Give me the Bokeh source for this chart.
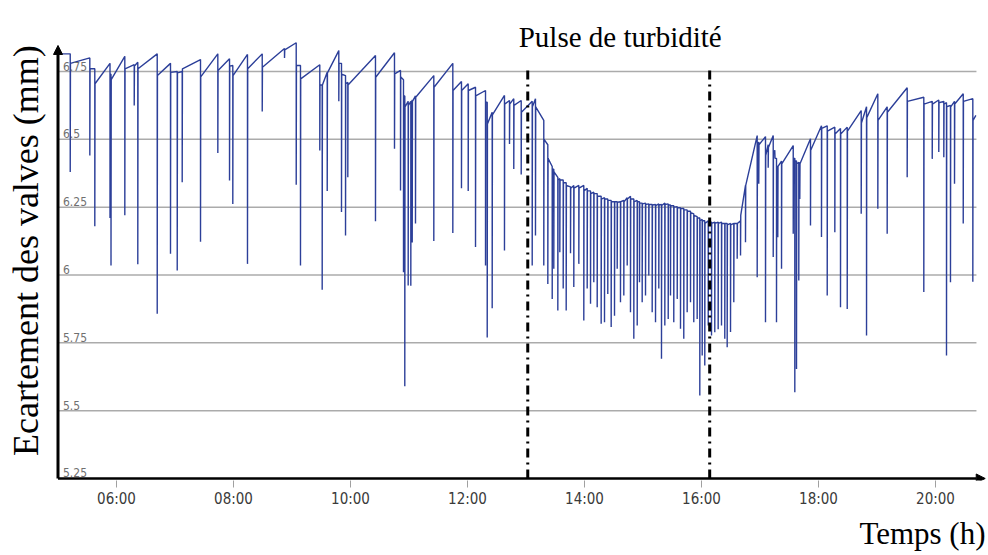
import numpy as np
from bokeh.plotting import figure
from bokeh.models import Range1d, Label, Arrow, NormalHead, Title, FixedTicker
from bokeh.core.properties import value
from bokeh.embed import file_html
from bokeh.resources import INLINE

# ---------------- data (hours, mm) ----------------
start_t, start_v = 5.026, 6.815
end_t, end_v = 20.69, 6.588

spike_t = [
    5.209, 5.544, 5.629, 5.889, 5.906, 6.142, 6.303, 6.364, 6.696, 6.923, 7.038, 7.123, 7.436,
    7.732, 7.932, 7.988, 8.239, 8.491, 8.872, 9.072, 9.145, 9.475, 9.516, 9.602, 9.800, 9.846, 9.915, 9.954,
    10.427, 10.752, 10.855, 10.906, 10.928, 10.986, 11.031, 11.055, 11.111, 11.424, 11.749, 11.897, 12.012,
    12.137, 12.308, 12.337, 12.422, 12.632, 12.718, 12.791, 12.918,
    13.106, 13.162, 13.304, 13.373, 13.448, 13.475, 13.544, 13.578, 13.636, 13.687, 13.761, 13.817, 13.903,
    13.988, 14.046, 14.103, 14.159, 14.217, 14.285, 14.342, 14.398, 14.456, 14.513,
    14.559, 14.615, 14.672, 14.730, 14.786, 14.843, 14.901, 14.940, 14.986, 15.043, 15.099, 15.157, 15.214,
    15.270, 15.316, 15.373, 15.431, 15.470, 15.526, 15.585, 15.641, 15.697, 15.755, 15.812, 15.868, 15.926,
    15.971, 16.012, 16.056, 16.115, 16.171, 16.227, 16.285, 16.342, 16.398, 16.439, 16.496, 16.552, 16.610,
    16.667, 16.752, 16.952, 16.979, 17.094, 17.140, 17.226, 17.253, 17.282, 17.304, 17.368, 17.568, 17.595,
    17.624, 17.663, 17.680, 17.863, 18.051, 18.149, 18.279, 18.376, 18.491, 18.730, 18.821, 19.014, 19.174,
    19.516, 19.800, 19.944, 20.056, 20.142, 20.188, 20.256, 20.325, 20.474, 20.638,
]
spike_lo = [
    6.38, 6.44, 6.18, 6.21, 6.035, 6.22, 6.625, 6.04, 5.857, 6.078, 6.017, 6.342, 6.123,
    6.45, 6.348, 6.262, 6.041, 6.603, 6.80, 6.333, 6.035, 6.459, 5.946, 6.31, 6.64, 6.232, 6.146, 6.36,
    6.198, 6.465, 6.311, 6.01, 5.59, 5.961, 5.96, 6.12, 6.19, 6.125, 6.155, 6.32, 6.31,
    6.103, 6.035, 5.77, 5.877, 6.09, 6.483, 6.391, 6.37,
    6.035, 6.146, 6.035, 5.967, 5.912, 6.023, 5.869, 6.084, 5.95, 5.869, 6.08, 5.956, 6.041,
    5.832, 5.95, 5.894, 5.973, 5.881, 5.82, 5.826, 5.93, 5.808, 5.85,
    6.023, 5.90, 5.924, 6.035, 5.863, 5.765, 5.814, 5.973, 5.90, 5.924, 5.998, 5.863, 5.826,
    5.95, 5.691, 5.814, 5.838, 5.924, 5.826, 5.912, 5.802, 5.765, 5.863, 5.90, 5.826, 5.838,
    5.556, 5.703, 5.666, 5.814, 5.777, 5.789, 5.80, 5.814, 5.765, 5.734, 5.79, 5.90, 6.06,
    6.072, 6.121, 5.992, 6.336, 5.826, 6.395, 6.066, 6.453, 5.826, 6.139, 6.023, 6.152, 5.568,
    5.654, 5.98, 6.28, 6.182, 6.14, 5.924, 6.158, 5.881, 5.875, 6.226, 5.777, 6.244, 6.152,
    6.36, 5.937, 6.428, 6.453, 6.434, 5.703, 5.973, 6.336, 6.19, 5.975,
]
spike_pre = [
    6.815, 6.80, 6.76, 6.78, 6.74, 6.806, 6.775, 6.784, 6.815, 6.78, 6.75, 6.75, 6.794,
    6.815, 6.797, 6.772, 6.813, 6.815, 6.835, 6.856, 6.772, 6.775, 6.70, 6.747, 6.827, 6.78, 6.735, 6.71,
    6.809, 6.819, 6.754, 6.72, 6.66, 6.64, 6.64, 6.645, 6.66, 6.735, 6.78, 6.713, 6.705,
    6.692, 6.68, 6.637, 6.60, 6.662, 6.643, 6.65, 6.643,
    6.64, 6.65, 6.57, 6.48, 6.40, 6.39, 6.36, 6.355, 6.35, 6.34, 6.325, 6.33, 6.33,
    6.33, 6.32, 6.31, 6.305, 6.30, 6.29, 6.285, 6.28, 6.275, 6.27,
    6.27, 6.27, 6.275, 6.285, 6.29, 6.28, 6.275, 6.27, 6.265, 6.265, 6.262, 6.26, 6.26,
    6.262, 6.26, 6.265, 6.262, 6.258, 6.255, 6.252, 6.248, 6.245, 6.24, 6.235, 6.225, 6.215,
    6.21, 6.205, 6.20, 6.20, 6.195, 6.195, 6.195, 6.195, 6.19, 6.19, 6.19, 6.19, 6.19,
    6.20, 6.33, 6.514, 6.49, 6.51, 6.48, 6.514, 6.46, 6.43, 6.40, 6.42, 6.477, 6.43,
    6.42, 6.415, 6.415, 6.502, 6.55, 6.55, 6.545, 6.54, 6.545, 6.606, 6.62, 6.668, 6.62,
    6.69, 6.655, 6.64, 6.645, 6.64, 6.635, 6.625, 6.64, 6.668, 6.65,
]
spike_post = [
    6.78, 6.76, 6.705, 6.74, 6.72, 6.76, 6.77, 6.76, 6.735, 6.747, 6.745, 6.76, 6.73,
    6.754, 6.77, 6.735, 6.76, 6.766, 6.83, 6.772, 6.723, 6.70, 6.70, 6.745, 6.78, 6.74, 6.705, 6.70,
    6.729, 6.741, 6.73, 6.66, 6.62, 6.625, 6.63, 6.64, 6.655, 6.692, 6.68, 6.68, 6.68,
    6.66, 6.637, 6.557, 6.59, 6.63, 6.63, 6.625, 6.60,
    6.62, 6.62, 6.50, 6.43, 6.39, 6.38, 6.35, 6.35, 6.34, 6.33, 6.32, 6.32, 6.32,
    6.31, 6.31, 6.30, 6.30, 6.29, 6.28, 6.28, 6.275, 6.27, 6.27,
    6.268, 6.27, 6.27, 6.28, 6.28, 6.27, 6.27, 6.265, 6.262, 6.26, 6.26, 6.258, 6.256,
    6.258, 6.256, 6.26, 6.258, 6.255, 6.25, 6.248, 6.245, 6.24, 6.235, 6.23, 6.22, 6.21,
    6.20, 6.20, 6.19, 6.195, 6.19, 6.19, 6.19, 6.19, 6.19, 6.185, 6.185, 6.19, 6.19,
    6.22, 6.33, 6.477, 6.48, 6.44, 6.47, 6.45, 6.43, 6.40, 6.40, 6.41, 6.43, 6.42,
    6.41, 6.41, 6.41, 6.46, 6.54, 6.53, 6.52, 6.52, 6.53, 6.56, 6.58, 6.57, 6.60,
    6.64, 6.63, 6.63, 6.635, 6.63, 6.62, 6.62, 6.63, 6.64, 6.57,
]

pulse_t = [13.03, 16.14]          # start / end of the turbidity pulse
pulse_top = 6.772

axis_t0 = 5.0                     # time at the y axis
grid_t1 = 20.70                   # time where the grid lines stop
y_ticks = [5.25, 5.5, 5.75, 6.0, 6.25, 6.5, 6.75]
y_tick_labels = ["5.25", "5.5", "5.75", "6", "6.25", "6.5", "6.75"]
x_ticks = [6, 8, 10, 12, 14, 16, 18, 20]
x_tick_labels = ["06:00", "08:00", "10:00", "12:00", "14:00", "16:00", "18:00", "20:00"]

title_text = "Pulse de turbidité"
y_label = "Ecartement des valves (mm)"
x_label = "Temps (h)"

assert len(spike_t) == len(spike_lo) == len(spike_pre) == len(spike_post)

# ---------------- build the polyline from the readings ----------------
xs, ys = [start_t], [start_v]
for t, lo, pre, post in zip(spike_t, spike_lo, spike_pre, spike_post):
    xs += [t, t, t + 0.004]
    ys += [pre, lo, post]
xs.append(end_t)
ys.append(end_v)

# ---------------- figure ----------------
PX_PER_H = 58.5
X0 = axis_t0 - 57.5 / PX_PER_H
X1 = X0 + 988 / PX_PER_H
Y0, Y1 = 5.2426, 7.0117

p = figure(width=988, height=555, output_backend="svg", toolbar_location=None,
           x_range=Range1d(X0, X1), y_range=Range1d(Y0, Y1),
           min_border_left=0, min_border_right=0, min_border_top=0, min_border_bottom=75)
p.outline_line_color = None
p.background_fill_color = "white"
p.border_fill_color = "white"
p.xgrid.visible = False
p.ygrid.visible = False
p.yaxis.visible = False

# x axis (real Bokeh axis)
p.xaxis.ticker = FixedTicker(ticks=x_ticks)
p.xaxis.major_label_overrides = {t: l for t, l in zip(x_ticks, x_tick_labels)}
p.xaxis.axis_line_color = None
p.xaxis.major_tick_in = 0
p.xaxis.major_tick_out = 7
p.xaxis.major_tick_line_color = "#a0a0a0"
p.xaxis.minor_tick_line_color = None
p.xaxis.major_label_standoff = 2
p.xaxis.major_label_text_font = "DejaVu Sans Condensed"
p.xaxis.major_label_text_font_size = "15px"
p.xaxis.major_label_text_color = "#3a3a3a"

# horizontal grid lines
gy = y_ticks[1:]
p.segment(x0=[axis_t0] * len(gy), y0=gy, x1=[grid_t1] * len(gy), y1=gy,
          line_color="#ababab", line_width=1.5)

# data line
p.line(xs, ys, line_color="#2c3f99", line_width=1.4)

# pulse markers
p.segment(x0=pulse_t, y0=[y_ticks[0]] * len(pulse_t), x1=pulse_t, y1=[pulse_top] * len(pulse_t),
          line_color="black", line_width=3, line_dash="9 5 2 5")

# y tick labels inside the plot
p.text(x=[axis_t0] * len(y_ticks), y=y_ticks, text=y_tick_labels, x_offset=5, y_offset=-1,
       text_baseline="bottom", text_align="left",
       text_font=value("DejaVu Sans Condensed"), text_font_size="12px", text_color="#707070")

# axes arrows
p.add_layout(Arrow(x_start=axis_t0, y_start=y_ticks[0], x_end=axis_t0, y_end=6.846,
                   line_width=3, line_color="black",
                   end=NormalHead(size=9, line_color="black", fill_color="black", line_width=1)))
p.add_layout(Arrow(x_start=axis_t0, y_start=y_ticks[0], x_end=20.85, y_end=y_ticks[0],
                   line_width=2.5, line_color="black",
                   end=NormalHead(size=9, line_color="black", fill_color="black", line_width=1)))

# texts
p.add_layout(Label(x=14.61, y=6.879, text=title_text, text_align="center", text_baseline="alphabetic",
                   text_font="Liberation Serif", text_font_size="29px", text_color="black"))
p.add_layout(Label(x=4.4615, y=6.09, text=y_label, angle=np.pi / 2, angle_units="rad",
                   text_align="center", text_baseline="middle",
                   text_font="Liberation Serif", text_font_size="36px", text_color="black"))
p.add_layout(Title(text=x_label, align="right", offset=3, standoff=7,
                   text_font="Liberation Serif", text_font_size="31px", text_font_style="normal",
                   text_color="black"), "below")

open("out.html", "w").write(file_html(p, INLINE))
